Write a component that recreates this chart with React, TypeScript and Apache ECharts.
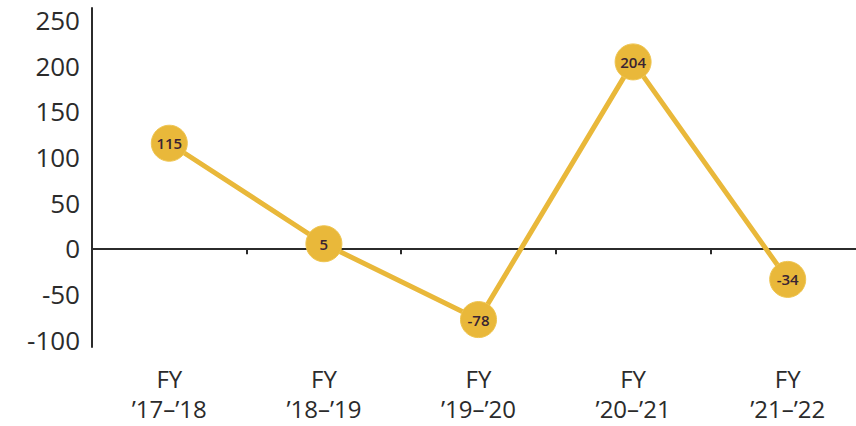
import React, { useEffect, useRef } from "react";
import * as echarts from "echarts";

const categories = ["FY\n’17–’18", "FY\n’18–’19", "FY\n’19–’20", "FY\n’20–’21", "FY\n’21–’22"];
const values = [115, 5, -78, 204, -34];
const yTicks = [-100, -50, 0, 50, 100, 150, 200, 250];

export default function App() {
  const ref = useRef<HTMLDivElement>(null);
  useEffect(() => {
    document.body.style.margin = "0";
    const chart = echarts.init(ref.current!, null, { renderer: "svg" });
    chart.setOption({
      animation: false,
      backgroundColor: "#ffffff",
      grid: { left: 92, right: 1, top: 8, bottom: 79, containLabel: false },
      xAxis: [
        {
          type: "category",
          data: categories,
          boundaryGap: true,
          axisLine: { onZero: true, lineStyle: { color: "#2b2b2b", width: 2 } },
          axisTick: { show: true, length: 6, lineStyle: { color: "#2b2b2b", width: 2 } },
          axisLabel: { show: false },
          splitLine: { show: false },
        },
        {
          type: "category",
          data: categories,
          position: "bottom",
          boundaryGap: true,
          axisLine: { show: false, onZero: false },
          axisTick: { show: false },
          axisLabel: {
            show: true,
            margin: 16,
            fontFamily: "Open Sans",
            fontSize: 24,
            lineHeight: 30,
            color: "#2b2b2b",
            interval: 0,
          },
          splitLine: { show: false },
        },
      ],
      yAxis: {
        type: "value",
        min: -108,
        max: 263,
        axisLine: { show: true, lineStyle: { color: "#2b2b2b", width: 2 } },
        axisTick: { show: false },
        splitLine: { show: false },
        axisLabel: {
          customValues: yTicks,
          margin: 12,
          fontFamily: "Open Sans",
          fontSize: 26,
          color: "#2b2b2b",
        },
      },
      series: [
        {
          type: "line",
          xAxisIndex: 0,
          data: values,
          symbol: "circle",
          symbolSize: 36,
          lineStyle: { color: "#e9b83a", width: 5 },
          itemStyle: { color: "#e9b83a", borderColor: "#efc550", borderWidth: 1 },
          label: {
            show: true,
            position: "inside",
            fontFamily: "Open Sans",
            fontSize: 15,
            fontWeight: 600,
            color: "#3a2433",
          },
          z: 3,
        },
      ],
    });
    return () => chart.dispose();
  }, []);
  return (
    <div style={{ width: 856, height: 426, overflow: "hidden", position: "relative" }}>
      <div ref={ref} style={{ width: 866, height: 426 }} />
    </div>
  );
}
